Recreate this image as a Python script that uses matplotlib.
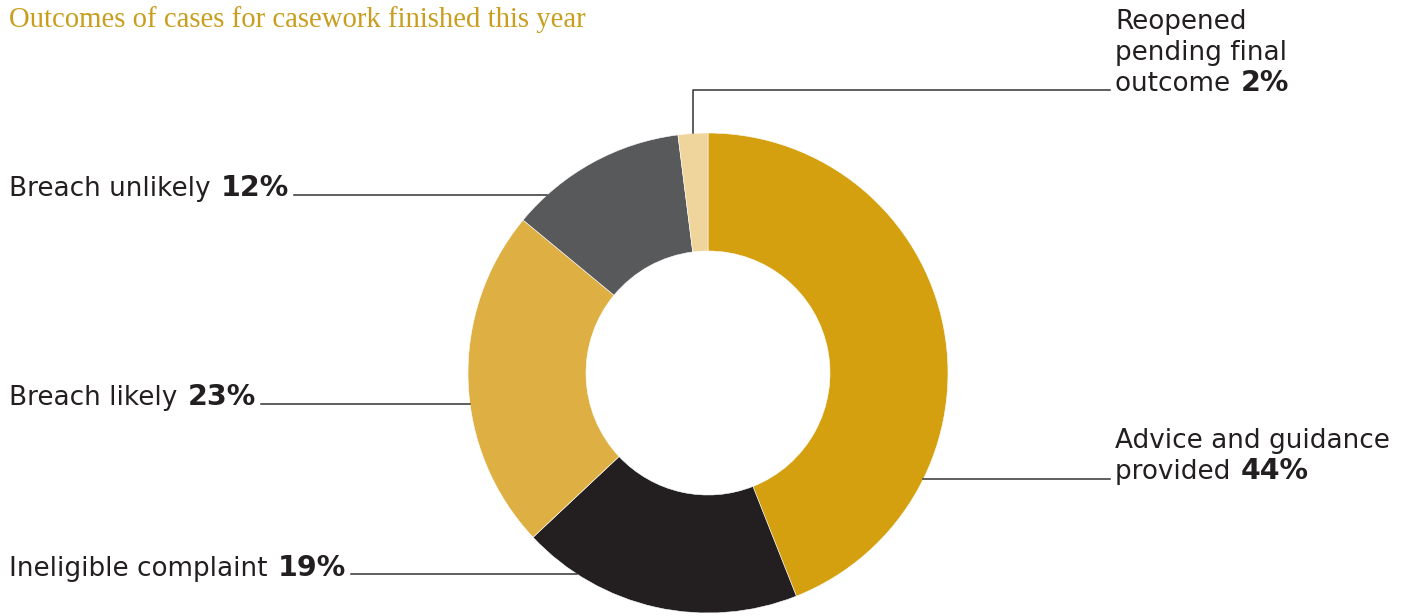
import numpy as np
import matplotlib.pyplot as plt

plt.rcParams["font.family"] = "DejaVu Sans"

# Outcome shares (%), clockwise from 12 o'clock
outcomes = ["Advice and guidance provided", "Ineligible complaint", "Breach likely",
            "Breach unlikely", "Reopened pending final outcome"]
shares = [44, 19, 23, 12, 2]
colors = ["#D4A00F", "#231F20", "#DEB044", "#58595B", "#EFD49B"]

W, H = 1408, 616
cx, cy = 708, H - 373
R, ring = 240, 118
text_col = "#231F20"
line_col = "#333333"
fs = 18.9
fs_bold = 20.5

fig = plt.figure(figsize=(W / 100, H / 100), dpi=100)
ax = fig.add_axes([0, 0, 1, 1])
ax.pie(shares, colors=colors, startangle=90, counterclock=False,
       center=(cx, cy), radius=R,
       wedgeprops=dict(width=ring, edgecolor="white", linewidth=0.4))
ax.set_xlim(0, W)
ax.set_ylim(0, H)
ax.set_aspect("auto")
ax.axis("off")

fig.text(9 / W, 1 - 27 / H, "Outcomes of cases for casework finished this year",
         fontsize=20.7, family="Liberation Serif", color="#C99E1F", va="baseline")

renderer = fig.canvas.get_renderer()


def label(x, y, plain, bold):
    # plain text followed by the bold percentage on one baseline
    t = ax.text(x, y, plain, fontsize=fs, color=text_col, va="baseline")
    bb = t.get_window_extent(renderer)
    t2 = ax.text(bb.x1 + 2, y, bold, fontsize=fs_bold, color=text_col,
                 fontweight="bold", va="baseline")
    return t2.get_window_extent(renderer).x1


def edge_x(y, side):
    dy = y - cy
    return cx + side * np.sqrt(R ** 2 - dy ** 2)


# Breach unlikely
y = H - 195
end = label(9, y - 1, "Breach unlikely ", "12%")
ax.plot([end + 5, edge_x(y, -1)], [y, y], color=line_col, lw=1.1)

# Breach likely
y = H - 404
end = label(9, y - 1, "Breach likely ", "23%")
ax.plot([end + 5, edge_x(y, -1)], [y, y], color=line_col, lw=1.1)

# Ineligible complaint
y = H - 574
end = label(9, y - 2, "Ineligible complaint ", "19%")
ax.plot([end + 5, edge_x(y, -1)], [y, y], color=line_col, lw=1.1)

# Advice and guidance provided
y = H - 479
ax.text(1115, H - 448, "Advice and guidance", fontsize=fs, color=text_col, va="baseline")
label(1115, y, "provided ", "44%")
ax.plot([edge_x(y, 1), 1110], [y, y], color=line_col, lw=1.1)

# Reopened pending final outcome: leader from the middle of the small wedge
mid = np.deg2rad(90 - 360 * (sum(shares[:4]) + shares[4] / 2) / 100)
x0 = cx + R * np.cos(mid)
y0 = cy + R * np.sin(mid)
y = H - 90
ax.plot([x0, x0, 1110], [y0, y, y], color=line_col, lw=1.1)
ax.text(1115, H - 29, "Reopened", fontsize=fs, color=text_col, va="baseline")
ax.text(1115, H - 60, "pending final", fontsize=fs, color=text_col, va="baseline")
label(1115, H - 91, "outcome ", "2%")

fig.savefig("out.png", dpi=100, facecolor="white")
